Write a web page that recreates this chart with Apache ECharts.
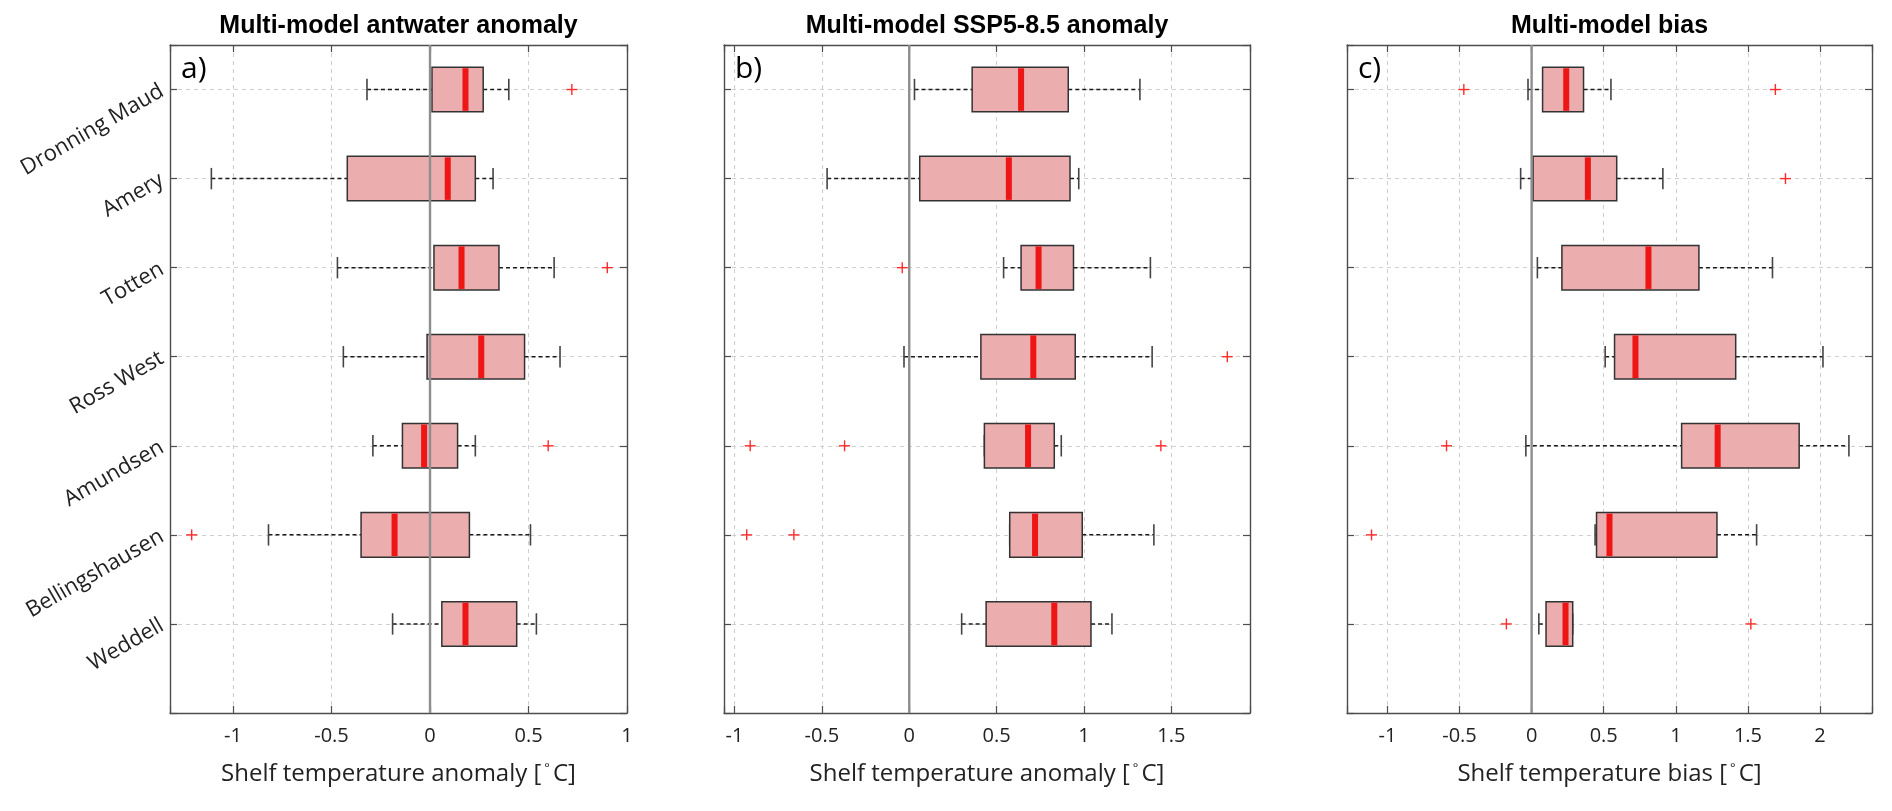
<!DOCTYPE html>
<html>
<head>
<meta charset="utf-8">
<script src="https://cdn.jsdelivr.net/npm/echarts@6.0.0/dist/echarts.min.js"></script>
<style>
html,body{margin:0;padding:0;background:#fff;}
#chart{width:1892px;height:811px;}
</style>
</head>
<body>
<div id="chart"></div>
<script>
// ---------------- DATA ----------------
const categories = ['Dronning Maud', 'Amery', 'Totten', 'Ross West', 'Amundsen', 'Bellingshausen', 'Weddell'];

// rows: [lower whisker, Q1, median, Q3, upper whisker] in category order
const antwaterBoxes = [
  [-0.32, 0.01, 0.18, 0.27, 0.40],
  [-1.11, -0.42, 0.09, 0.23, 0.32],
  [-0.47, 0.02, 0.16, 0.35, 0.63],
  [-0.44, -0.015, 0.26, 0.48, 0.66],
  [-0.29, -0.14, -0.03, 0.14, 0.23],
  [-0.82, -0.35, -0.18, 0.20, 0.51],
  [-0.19, 0.06, 0.18, 0.44, 0.54]
];
// [category index, value]
const antwaterOutliers = [[0, 0.72], [2, 0.90], [4, 0.60], [5, -1.21]];

const sspBoxes = [
  [0.03, 0.36, 0.64, 0.91, 1.32],
  [-0.47, 0.06, 0.57, 0.92, 0.97],
  [0.54, 0.64, 0.74, 0.94, 1.38],
  [-0.03, 0.41, 0.71, 0.95, 1.39],
  [0.43, 0.43, 0.68, 0.83, 0.87],
  [0.575, 0.575, 0.72, 0.99, 1.40],
  [0.30, 0.44, 0.83, 1.04, 1.16]
];
const sspOutliers = [[2, -0.04], [3, 1.82], [4, -0.91], [4, -0.37], [4, 1.44], [5, -0.93], [5, -0.66]];

const biasBoxes = [
  [-0.025, 0.076, 0.24, 0.36, 0.55],
  [-0.076, 0.01, 0.39, 0.59, 0.91],
  [0.04, 0.21, 0.81, 1.16, 1.67],
  [0.51, 0.575, 0.72, 1.415, 2.02],
  [-0.04, 1.04, 1.29, 1.855, 2.20],
  [0.44, 0.45, 0.54, 1.285, 1.56],
  [0.05, 0.10, 0.235, 0.285, 0.285]
];
const biasOutliers = [[0, -0.47], [0, 1.69], [1, 1.76], [4, -0.59], [5, -1.11], [6, -0.175], [6, 1.52]];

const panelTitles = ['Multi-model antwater anomaly', 'Multi-model SSP5-8.5 anomaly', 'Multi-model bias'];
const panelLetters = ['a)', 'b)', 'c)'];
const axisNames = ['Shelf temperature anomaly [', 'Shelf temperature anomaly [', 'Shelf temperature bias ['];
const xLimits = [[-1.32, 1.0], [-1.06, 1.95], [-1.28, 2.36]];
const tickStep = 0.5;

// ---------------- LAYOUT ----------------
const panels = [
  {left: 170, width: 457, boxes: antwaterBoxes, outliers: antwaterOutliers},
  {left: 724, width: 526, boxes: sspBoxes, outliers: sspOutliers},
  {left: 1347, width: 525, boxes: biasBoxes, outliers: biasOutliers}
];
const gridTop = 45, gridHeight = 668;
const yMin = 0.5, yMax = 8;

const FRAME = '#4d4d4d';
const GRIDC = '#cfcfcf';

function renderBox(params, api) {
  const y = api.value(0);
  const lo = api.coord([api.value(1), y]);
  const q1 = api.coord([api.value(2), y]);
  const md = api.coord([api.value(3), y]);
  const q3 = api.coord([api.value(4), y]);
  const hi = api.coord([api.value(5), y]);
  const unit = Math.abs(api.size([0, 1])[1]);
  const bh = unit * 0.25, ch = unit * 0.12;
  const cy = q1[1];
  return {
    type: 'group',
    children: [
      {type: 'line', shape: {x1: lo[0], y1: cy, x2: q1[0], y2: cy}, style: {stroke: '#1a1a1a', lineWidth: 1.5, lineDash: [4, 3]}},
      {type: 'line', shape: {x1: q3[0], y1: cy, x2: hi[0], y2: cy}, style: {stroke: '#1a1a1a', lineWidth: 1.5, lineDash: [4, 3]}},
      {type: 'line', shape: {x1: lo[0], y1: cy - ch, x2: lo[0], y2: cy + ch}, style: {stroke: '#444', lineWidth: 1.6}},
      {type: 'line', shape: {x1: hi[0], y1: cy - ch, x2: hi[0], y2: cy + ch}, style: {stroke: '#444', lineWidth: 1.6}},
      {type: 'rect', shape: {x: q1[0], y: cy - bh, width: q3[0] - q1[0], height: 2 * bh},
        style: {fill: '#ebadad', stroke: '#333333', lineWidth: 1.5}},
      {type: 'line', shape: {x1: md[0], y1: cy - bh + 1, x2: md[0], y2: cy + bh - 1}, style: {stroke: '#ee1515', lineWidth: 6}}
    ]
  };
}

function renderOutlier(params, api) {
  const p = api.coord([api.value(1), api.value(0)]);
  const s = 5.5;
  return {
    type: 'group',
    children: [
      {type: 'line', shape: {x1: p[0] - s, y1: p[1], x2: p[0] + s, y2: p[1]}, style: {stroke: '#ff2b2b', lineWidth: 1.4}},
      {type: 'line', shape: {x1: p[0], y1: p[1] - s, x2: p[0], y2: p[1] + s}, style: {stroke: '#ff2b2b', lineWidth: 1.4}}
    ]
  };
}

const grid = [], xAxis = [], yAxis = [], series = [], graphic = [];

panels.forEach((pn, i) => {
  grid.push({left: pn.left, top: gridTop, width: pn.width, height: gridHeight, show: false, outerBoundsMode: 'none', containLabel: false});
  const lim = xLimits[i];
  // main bottom x axis
  xAxis.push({
    type: 'value', gridIndex: i, position: 'bottom', min: lim[0], max: lim[1],
    minInterval: tickStep, maxInterval: tickStep,
    axisLine: {show: true, onZero: false, lineStyle: {color: FRAME, width: 1.4}},
    axisTick: {show: true, inside: true, length: 7, lineStyle: {color: FRAME, width: 1.2}},
    axisLabel: {
      show: true, margin: 13, fontSize: 20, color: '#222', fontFamily: 'Open Sans',
      formatter: function (v) {
        const r = v / tickStep;
        if (Math.abs(r - Math.round(r)) > 1e-6) return '';
        return String(Math.round(v * 100) / 100);
      }
    },
    splitLine: {show: true, lineStyle: {color: GRIDC, type: [4, 4], width: 1}},
    name: '{n|' + axisNames[i] + '}{s|°}{n|C]}',
    nameLocation: 'middle', nameGap: 49,
    nameTextStyle: {
      rich: {
        n: {fontSize: 24, color: '#222', fontFamily: 'Open Sans'},
        s: {fontSize: 13, color: '#222', fontFamily: 'Open Sans', verticalAlign: 'top', padding: [0, 3, 0, 3]}
      }
    }
  });
  // top x axis (frame + inward ticks)
  xAxis.push({
    type: 'value', gridIndex: i, position: 'top', min: lim[0], max: lim[1],
    minInterval: tickStep, maxInterval: tickStep,
    axisLine: {show: true, onZero: false, lineStyle: {color: FRAME, width: 1.4}},
    axisTick: {show: true, inside: true, length: 7, lineStyle: {color: FRAME, width: 1.2}},
    axisLabel: {show: false}, splitLine: {show: false}
  });
  // left y axis
  yAxis.push({
    type: 'value', gridIndex: i, position: 'left', inverse: true, min: yMin, max: yMax,
    minInterval: 1, maxInterval: 1,
    axisLine: {show: true, onZero: false, lineStyle: {color: FRAME, width: 1.4}},
    axisTick: {show: true, inside: true, length: 7, lineStyle: {color: FRAME, width: 1.2}},
    axisLabel: {
      show: i === 0, rotate: 30, margin: 8, fontSize: 22, color: '#222', fontFamily: 'Open Sans',
      padding: [0, 0, 8, 0],
      formatter: function (v) {
        const k = Math.round(v);
        if (Math.abs(v - k) > 1e-6 || k < 1 || k > categories.length) return '';
        return categories[k - 1];
      }
    },
    splitLine: {show: true, lineStyle: {color: GRIDC, type: [4, 4], width: 1}}
  });
  // right y axis
  yAxis.push({
    type: 'value', gridIndex: i, position: 'right', inverse: true, min: yMin, max: yMax,
    minInterval: 1, maxInterval: 1,
    axisLine: {show: true, onZero: false, lineStyle: {color: FRAME, width: 1.4}},
    axisTick: {show: true, inside: true, length: 7, lineStyle: {color: FRAME, width: 1.2}},
    axisLabel: {show: false}, splitLine: {show: false}
  });

  const xi = i * 2, yi = i * 2;
  series.push({
    type: 'custom', xAxisIndex: xi, yAxisIndex: yi, z: 2, silent: true,
    renderItem: renderBox,
    encode: {x: [1, 2, 3, 4, 5], y: 0},
    data: pn.boxes.map((b, k) => [k + 1].concat(b))
  });
  series.push({
    type: 'line', xAxisIndex: xi, yAxisIndex: yi, z: 3, silent: true,
    showSymbol: false, symbol: 'none',
    lineStyle: {color: '#8e8e8e', width: 2.4},
    data: [[0, yMin], [0, yMax]]
  });
  series.push({
    type: 'custom', xAxisIndex: xi, yAxisIndex: yi, z: 4, silent: true,
    renderItem: renderOutlier,
    encode: {x: 1, y: 0},
    data: pn.outliers.map(o => [o[0] + 1, o[1]])
  });

  graphic.push({
    type: 'text', x: pn.left + pn.width / 2, y: 26,
    style: {text: panelTitles[i], font: 'bold 25px "Liberation Sans", Arial, sans-serif', fill: '#000',
      textAlign: 'center', textVerticalAlign: 'middle', align: 'center', verticalAlign: 'middle'}
  });
  graphic.push({
    type: 'text', x: pn.left + 11, y: 69,
    style: {text: panelLetters[i], font: '30px "Open Sans", sans-serif', fill: '#000',
      textVerticalAlign: 'middle', verticalAlign: 'middle'}
  });
});

const chart = echarts.init(document.getElementById('chart'), null, {renderer: 'canvas', width: 1892, height: 811});
chart.setOption({
  animation: false,
  backgroundColor: '#ffffff',
  grid, xAxis, yAxis, series, graphic
});
</script>
</body>
</html>
